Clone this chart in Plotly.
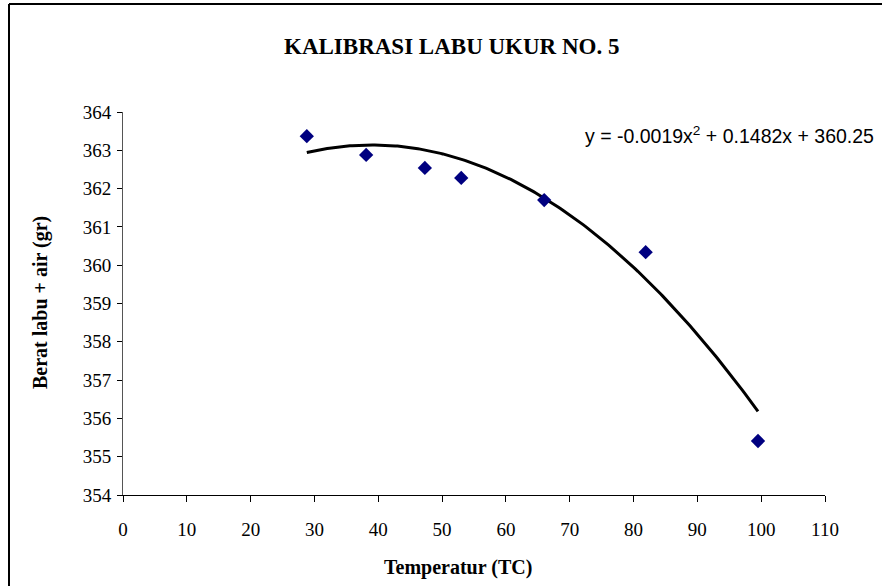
import numpy as np
import plotly.graph_objects as go

# Measured flask + water weight at each temperature
temperature = [28.8, 38.1, 47.3, 53.0, 66.0, 81.9, 99.5]
weight = [363.37, 362.88, 362.54, 362.28, 361.70, 360.34, 355.41]

# Polynomial (order 2) trendline coefficients
coef_a = -0.0019
coef_b = 0.1482
coef_c = 360.25

x_ticks = list(range(0, 111, 10))
y_ticks = list(range(354, 365, 1))

W, H = 882, 586
L, R, T, B = 123, 57, 112, 91
pw, ph = W - L - R, H - T - B


def px(xp):
    return (xp - L) / pw


def py(yp):
    return (H - B - yp) / ph


xs = np.linspace(min(temperature), max(temperature), 200)
ys = coef_a * xs ** 2 + coef_b * xs + coef_c

fig = go.Figure()
fig.add_trace(go.Scatter(
    x=xs, y=ys, mode="lines",
    line=dict(color="black", width=3),
    hoverinfo="skip", showlegend=False,
))
fig.add_trace(go.Scatter(
    x=temperature, y=weight, mode="markers",
    marker=dict(symbol="diamond", size=11, color="#000080"),
    showlegend=False,
))

serif = "Liberation Serif, Times New Roman, serif"
sans = "Liberation Sans, Arial, sans-serif"

fig.update_layout(
    width=W, height=H,
    margin=dict(l=L, r=R, t=T, b=B, pad=0),
    paper_bgcolor="white", plot_bgcolor="white",
    showlegend=False,
    xaxis=dict(
        range=[0, 110], tickvals=x_ticks, ticktext=[str(v) for v in x_ticks],
        showgrid=False, zeroline=False,
        showline=True, linecolor="black", linewidth=1,
        ticks="outside", ticklen=6, tickcolor="black", tickwidth=1,
        tickfont=dict(family=serif, size=19, color="black"),
        ticklabelstandoff=11,
    ),
    yaxis=dict(
        range=[354, 364], tickvals=y_ticks, ticktext=[str(v) for v in y_ticks],
        showgrid=False, zeroline=False,
        showline=True, linecolor="#555555", linewidth=1,
        ticks="outside", ticklen=5, tickcolor="black", tickwidth=1,
        tickfont=dict(family=serif, size=19, color="black"),
        ticklabelstandoff=2,
    ),
    annotations=[
        dict(text="<b>KALIBRASI LABU UKUR NO. 5</b>", x=px(451), y=py(47),
             xref="paper", yref="paper", showarrow=False,
             xanchor="center", yanchor="middle",
             font=dict(family=serif, size=23, color="black")),
        dict(text="y = -0.0019x<sup>2</sup> + 0.1482x + 360.25",
             x=px(583), y=py(135), xref="paper", yref="paper", showarrow=False,
             xanchor="left", yanchor="middle",
             font=dict(family=sans, size=19.5, color="black")),
        dict(text="<b>Temperatur (TC)</b>", x=px(458), y=py(567),
             xref="paper", yref="paper", showarrow=False,
             xanchor="center", yanchor="middle",
             font=dict(family=serif, size=20, color="black")),
        dict(text="<b>Berat labu + air (gr)</b>", x=px(40), y=py(303),
             xref="paper", yref="paper", showarrow=False, textangle=-90,
             xanchor="center", yanchor="middle",
             font=dict(family=serif, size=20, color="black")),
    ],
    shapes=[
        dict(type="line", xref="paper", yref="paper",
             x0=px(9), x1=px(9), y0=py(4), y1=py(600),
             line=dict(color="black", width=2)),
        dict(type="line", xref="paper", yref="paper",
             x0=px(9), x1=px(900), y0=py(4), y1=py(4),
             line=dict(color="black", width=2)),
    ],
)

fig.write_html("out.html")
